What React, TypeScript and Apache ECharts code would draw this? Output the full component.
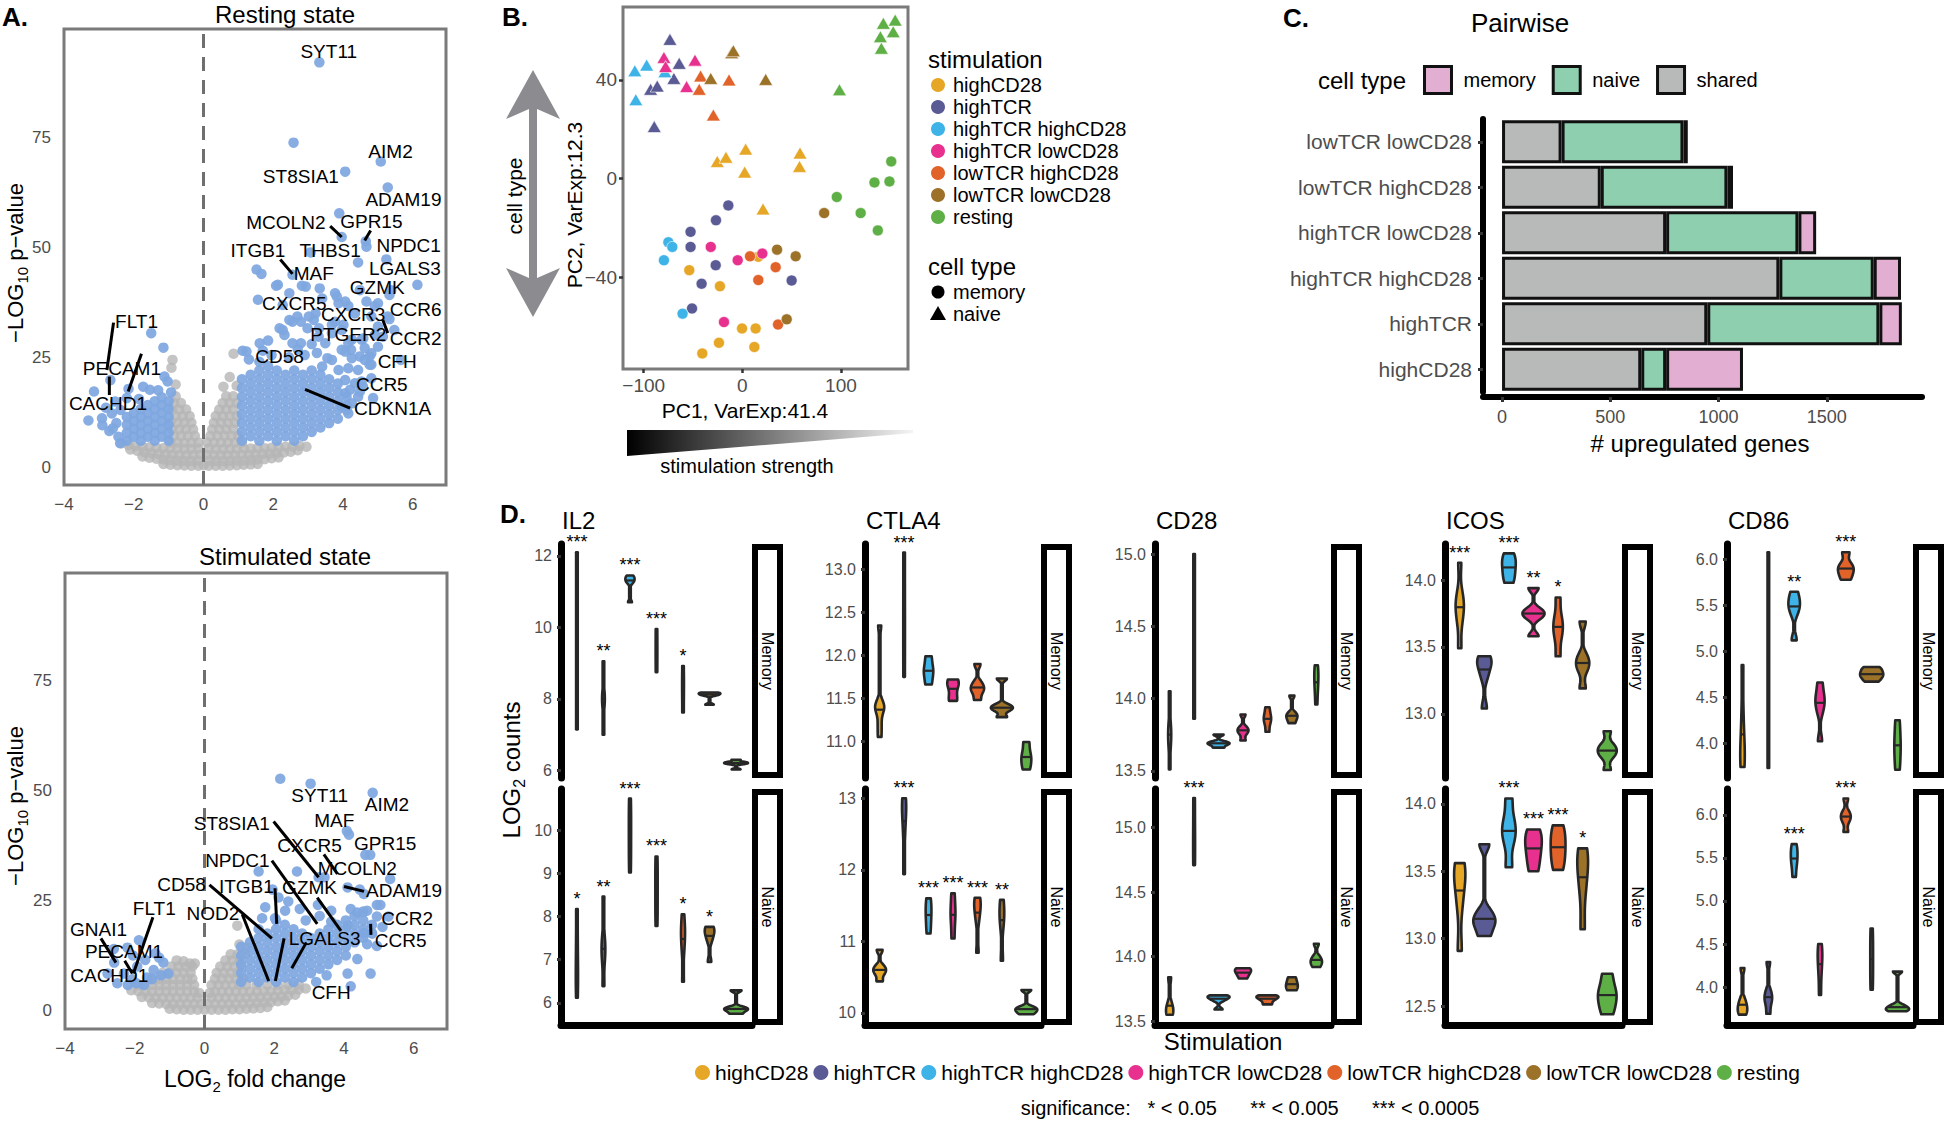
import React, { useEffect, useRef } from 'react';
import * as echarts from 'echarts';

const FONT = '"Liberation Sans", Arial, Helvetica, sans-serif';
const TICK_GREY = '#4d4d4d';
const OUTLINE = '#272727';
const FRAME = '#7a7a7a';
const VOLC_GREY = '#b5b5b5';
const VOLC_BLUE = '#7ea6e0';

// ---------------- Panel A: volcano plots (x = LOG2 fold change, y = -LOG10 p) ----------------
const restingGrey = [
  0, 0.4, 0.15, 0.3, 0.35, 0.3, 0.55, 0.3, 0.75, 0.35, 0.95, 0.4, 1.15, 0.5, 1.35, 0.6, 1.55, 0.7, -0.15, 0.3, -0.35, 0.3, -0.55, 0.35, -0.75, 0.4, -0.95, 0.5, -1.15, 0.7,
  0.15, 1.5, 0.35, 1.4, 0.55, 1.4, 0.75, 1.4, 0.95, 1.5, 1.15, 1.5, 1.35, 1.6, 1.55, 1.7, 1.75, 1.8, 1.95, 2.0, 2.15, 2.2, -0.15, 1.5, -0.35, 1.4, -0.55, 1.4, -0.75, 1.5, -0.95, 1.6, -1.15, 1.7, -1.35, 1.9, -1.55, 2.1, -1.75, 2.4,
  0.1, 2.8, 0.3, 2.7, 0.5, 2.7, 0.7, 2.7, 0.9, 2.7, 1.1, 2.8, 1.3, 2.8, 1.5, 2.9, 1.7, 3.0, 1.9, 3.1, 2.1, 3.2, 2.3, 3.3, 2.5, 3.5, 2.7, 3.8, -0.1, 2.8, -0.3, 2.7, -0.5, 2.7, -0.7, 2.7, -0.9, 2.8, -1.1, 2.9, -1.3, 3.0, -1.5, 3.2, -1.7, 3.4, -1.9, 3.7, -2.1, 4.0,
  0.15, 4.2, 0.35, 4.1, 0.55, 4.1, 0.75, 4.1, 0.95, 4.1, 1.15, 4.2, 1.35, 4.2, 1.55, 4.3, 1.75, 4.3, 1.95, 4.4, 2.15, 4.5, 2.35, 4.6, 2.55, 4.7, 2.75, 4.8, 2.95, 4.6, -0.15, 4.2, -0.35, 4.1, -0.55, 4.1, -0.75, 4.2, -0.95, 4.2, -1.15, 4.3, -1.35, 4.4, -1.55, 4.5, -1.75, 4.6, -1.95, 4.8, -2.15, 5.0, -2.35, 5.4,
  0.1, 5.6, 0.3, 5.6, 0.5, 5.6, 0.7, 5.6, 0.9, 5.6, 1.1, 5.6, -0.15, 5.6, -0.35, 5.6, -0.55, 5.6, -0.75, 5.6, -0.95, 5.6,
  0.2, 7.1, 0.4, 7.1, 0.6, 7.1, 0.8, 7.1, 1.0, 7.1, -0.25, 7.1, -0.45, 7.1, -0.65, 7.1, -0.85, 7.1,
  0.25, 8.6, 0.45, 8.6, 0.65, 8.6, 0.85, 8.6, -0.3, 8.6, -0.5, 8.6, -0.7, 8.6, -0.9, 8.6,
  0.3, 10.1, 0.5, 10.1, 0.7, 10.1, 0.9, 10.1, -0.35, 10.1, -0.55, 10.1, -0.75, 10.1, -0.95, 10.1,
  0.35, 11.6, 0.55, 11.6, 0.75, 11.6, 0.95, 11.6, -0.4, 11.6, -0.6, 11.6, -0.8, 11.6,
  0.45, 13.1, 0.65, 13.1, 0.85, 13.1, -0.5, 13.1, -0.7, 13.1, -0.9, 13.1,
  0.55, 14.6, 0.75, 14.6, 0.95, 14.6, -0.65, 14.6, -0.85, 14.6,
  0.65, 16.1, 0.85, 16.1, -0.8, 16.1,
  0.57, 18.3, 0.86, 25.8, 0.75, 20.5, 0.95, 18.5, -0.89, 24.4, -0.92, 22.6, -0.8, 18.8,
];

const restingBlue = [
  -1.0, 6, -1.0, 7.8, -1.0, 9.6, -1.0, 11.4, -1.0, 13.2, -1.0, 15,
  -1.2, 6.9, -1.2, 8.7, -1.2, 10.5, -1.2, 12.3, -1.2, 14.1, -1.2, 15.9,
  -1.4, 6, -1.4, 7.8, -1.4, 9.6, -1.4, 11.4, -1.4, 13.2, -1.4, 15,
  -1.6, 6.9, -1.6, 8.7, -1.6, 10.5, -1.6, 12.3, -1.6, 14.1,
  -1.8, 6, -1.8, 7.8, -1.8, 9.6, -1.8, 11.4, -1.8, 13.2,
  -2.0, 6.9, -2.0, 8.7, -2.0, 10.5, -2.0, 12.3,
  -2.2, 6, -2.2, 7.8, -2.2, 9.6, -2.2, 11.4,
  -1.5, 30.5, -1.15, 27.2, -1.12, 20.6, -1.54, 17.6, -1.73, 18.3, -2.53, 14.9, -3.14, 17.2, -2.91, 11.1, -2.67, 19.8, -2.63, 12.2, -2.2, 15.7, -2.9, 9.5, -2.44, 6.9, -2.39, 5.4, -1.03, 19.5, -0.93, 17, -2.7, 8.2, -2.5, 10, -2.38, 13, -3.3, 10.6, -2.8, 13.5, -1.3, 17.5, -1.85, 15.5, -2.15, 17.8, -2.6, 8.8,
  1.1, 6, 1.1, 8, 1.1, 10, 1.1, 12, 1.1, 14, 1.1, 16, 1.1, 18, 1.1, 20,
  1.35, 7, 1.35, 9, 1.35, 11, 1.35, 13, 1.35, 15, 1.35, 17, 1.35, 19, 1.35, 21,
  1.6, 6, 1.6, 8, 1.6, 10, 1.6, 12, 1.6, 14, 1.6, 16, 1.6, 18, 1.6, 20, 1.6, 22, 1.6, 24,
  1.85, 7, 1.85, 9, 1.85, 11, 1.85, 13, 1.85, 15, 1.85, 17, 1.85, 19, 1.85, 21, 1.85, 23,
  2.1, 6, 2.1, 8, 2.1, 10, 2.1, 12, 2.1, 14, 2.1, 16, 2.1, 18, 2.1, 20, 2.1, 22,
  2.35, 7, 2.35, 9, 2.35, 11, 2.35, 13, 2.35, 15, 2.35, 17, 2.35, 19, 2.35, 21,
  2.6, 6, 2.6, 8, 2.6, 10, 2.6, 12, 2.6, 14, 2.6, 16, 2.6, 18, 2.6, 20, 2.6, 22,
  2.85, 7, 2.85, 9, 2.85, 11, 2.85, 13, 2.85, 15, 2.85, 17, 2.85, 19, 2.85, 21,
  3.1, 8, 3.1, 10, 3.1, 12, 3.1, 14, 3.1, 16, 3.1, 18, 3.1, 20, 3.1, 22,
  3.35, 9, 3.35, 11, 3.35, 13, 3.35, 15, 3.35, 17, 3.35, 19, 3.35, 21,
  3.6, 10, 3.6, 12, 3.6, 14, 3.6, 16, 3.6, 18, 3.6, 20,
  3.85, 11, 3.85, 13, 3.85, 15, 3.85, 17, 3.85, 19,
  4.1, 14, 4.1, 16,
  1.12, 26.5, 1.3, 24.5, 1.61, 28.2, 1.85, 28.8, 2.18, 31.6, 2.32, 30.1, 2.55, 33.1, 2.69, 34.3, 2.79, 28.2, 2.98, 31.6, 3.16, 33.5, 3.3, 29.7, 3.49, 28.2, 3.68, 30.5, 3.77, 33.1, 4.01, 32.4, 4.15, 28.2, 3.96, 26.7, 4.23, 26.7, 4.48, 25.2, 4.76, 25.2, 4.81, 23.3, 4.43, 22.1, 4.15, 22.5, 3.87, 22.1, 4.06, 19.8, 4.34, 19.1, 4.57, 18.3, 4.06, 16.8, 4.25, 14.5, 3.96, 13.8, 4.15, 12.2, 4.43, 16, 3.4, 22.9, 3.68, 24.4,
  1.95, 25.5, 2.45, 25, 2.9, 25.5, 3.25, 26, 3.55, 24.8, 1.7, 26.5, 2.7, 26.8, 3.1, 28,
  1.52, 45, 1.66, 44, 2.13, 41.5, 2.46, 39.6, 2.27, 36.9, 2.93, 41.1, 3.4, 38.4, 3.77, 39.6, 4.06, 37.7, 4.48, 40.3, 6.13, 41.5, 5.38, 40.3, 5.0, 37.3, 4.81, 34.3, 5.0, 32, 5.14, 29.7, 5.28, 34.3, 5.47, 31.2, 5.0, 27.4, 5.66, 24.4, 4.53, 29, 4.86, 15.7, 4.53, 19.5,
  3.32, 92.2, 2.58, 73.9, 5.08, 69.6, 4.06, 67.3, 5.28, 63.7, 3.89, 57.8, 3.96, 52.4, 4.65, 51.4, 4.67, 50.2, 3.07, 48.9, 5.24, 47.3, 4.43, 46.6, 2.55, 43.8, 2.08, 41.3, 2.82, 41.3, 5.33, 39.2, 3.82, 38.8, 3.33, 40.7, 4.67, 37.7, 1.56, 38.1, 4.91, 36.7, 4.15, 36.7, 3.87, 37.3, 3.21, 35, 5.33, 33.7, 4.34, 35, 2.46, 33.5, 2.79, 33.1, 3.02, 34.3, 3.31, 31.6, 3.68, 32.4, 3.96, 31.2, 2.27, 31.2, 4.91, 30.1, 4.58, 29.3, 4.25, 29, 2.55, 28.2, 1.23, 26.3, 4.06, 26.3, 4.62, 27.1, 4.25, 24.8, 4.81, 25.9, 4.62, 24.4, 4.76, 23.3, 4.2, 17.6, 4.1, 13, 4.81, 20.2, 4.48, 17.2,
];

const restingLabels: [string, number, number][] = [
  ['SYT11', 3.59, 94.7], ['AIM2', 5.36, 72.0], ['ST8SIA1', 2.79, 66.3], ['ADAM19', 5.73, 61.0],
  ['MCOLN2', 2.36, 55.7], ['GPR15', 4.81, 55.9], ['ITGB1', 1.56, 49.3], ['THBS1', 3.63, 49.3],
  ['NPDC1', 5.88, 50.4], ['MAF', 3.16, 44.0], ['LGALS3', 5.77, 45.3], ['GZMK', 4.98, 41.0],
  ['CXCR5', 2.6, 37.2], ['CCR6', 6.08, 35.8], ['CXCR3', 4.29, 34.7], ['PTGER2', 4.15, 30.3],
  ['CCR2', 6.08, 29.3], ['CD58', 2.18, 25.2], ['CFH', 5.55, 24.0], ['CCR5', 5.11, 18.7],
  ['CDKN1A', 5.42, 13.4], ['FLT1', -1.92, 33.1], ['PECAM1', -2.34, 22.5], ['CACHD1', -2.74, 14.4],
];
const restingLeaders = [
  [3.63, 54.9, 3.96, 52.4], [4.79, 53.9, 4.62, 51.6], [2.2, 47.3, 2.55, 44], [5.14, 33.5, 5.28, 30.5],
  [2.91, 17.7, 4.2, 13.4], [-2.58, 32.9, -2.77, 22.1], [-1.78, 25.8, -2.16, 17.2], [-2.7, 20.6, -2.7, 16.4],
];

const stimGrey = [
  -1.0, 0.4, -0.8, 0.3, -0.6, 0.2, -0.4, 0.2, -0.2, 0.2, 0, 0.2, 0.2, 0.2, 0.4, 0.2, 0.6, 0.2, 0.8, 0.3, 1.0, 0.3, 1.2, 0.4, 1.4, 0.5, 1.6, 0.6, 1.8, 0.8,
  -1.5, 1.7, -1.3, 1.6, -1.1, 1.5, -0.9, 1.5, -0.7, 1.5, -0.5, 1.5, -0.3, 1.5, -0.1, 1.5, 0.1, 1.5, 0.3, 1.5, 0.5, 1.5, 0.7, 1.5, 0.9, 1.5, 1.1, 1.6, 1.3, 1.6, 1.5, 1.7, 1.7, 1.8, 1.9, 1.9, 2.1, 2.1, 2.3, 2.3,
  -1.8, 3.1, -1.6, 3.0, -1.4, 2.9, -1.2, 2.9, -1.0, 2.9, -0.8, 2.9, -0.6, 2.9, -0.4, 2.9, -0.2, 2.9, 0.2, 2.9, 0.4, 2.9, 0.6, 2.9, 0.8, 2.9, 1.0, 2.9, 1.2, 2.9, 1.4, 3.0, 1.6, 3.0, 1.8, 3.1, 2.0, 3.1, 2.2, 3.2, 2.4, 3.4, 2.6, 3.6,
  -2.1, 4.6, -1.9, 4.4, -1.7, 4.3, -1.5, 4.3, -1.3, 4.3, -1.1, 4.3, -0.9, 4.3, -0.7, 4.3, -0.5, 4.3, -0.3, 4.3, -0.15, 4.0, 0.15, 4.0, 0.3, 4.3, 0.5, 4.3, 0.7, 4.3, 0.9, 4.3, 1.1, 4.3, 1.3, 4.3, 1.5, 4.3, 1.7, 4.4, 1.9, 4.4, 2.1, 4.5, 2.3, 4.6, 2.5, 4.7, 2.7, 4.8, 2.9, 5.0,
  -1.9, 5.8, -1.7, 5.8, -1.5, 5.8, -1.3, 5.8, -1.1, 5.8, -0.9, 5.8, -0.7, 5.8, -0.5, 5.8, -0.3, 5.8, 0.2, 5.8, 0.4, 5.8, 0.6, 5.8, 0.8, 5.8, 1.0, 5.8, 1.2, 5.8, 1.5, 5.9, 1.8, 5.9, 2.1, 5.9, 2.4, 5.9, 2.7, 5.9,
  -1.5, 7.2, -1.3, 7.2, -1.1, 7.2, -0.9, 7.2, -0.7, 7.2, -0.5, 7.2, -0.35, 7.2, 0.3, 7.2, 0.5, 7.2, 0.7, 7.2, 0.9, 7.2, 1.1, 7.2,
  -1.2, 8.6, -1.0, 8.6, -0.8, 8.6, -0.6, 8.6, -0.4, 8.6, 0.35, 8.6, 0.55, 8.6, 0.75, 8.6, 0.95, 8.6,
  -0.95, 10, -0.75, 10, -0.55, 10, -0.35, 10, 0.45, 10, 0.65, 10, 0.85, 10, 1.05, 10,
  -0.8, 11.4, -0.6, 11.2, 0.6, 11.4, 0.8, 11.4, 1.0, 11.4,
  0.75, 12.8, 0.95, 12.8, 1.15, 12.8,
  0.94, 19.3, -0.42, 10.7, -0.28, 10.7, 1.0, 15, 1.2, 14.3,
];

const stimBlue = [
  1.05, 6.5, 1.05, 8.5, 1.05, 10.5, 1.05, 12.5, 1.05, 14.5,
  1.3, 7.5, 1.3, 9.5, 1.3, 11.5, 1.3, 13.5, 1.3, 15.5,
  1.55, 6.5, 1.55, 8.5, 1.55, 10.5, 1.55, 12.5, 1.55, 14.5, 1.55, 16.5, 1.55, 18.5,
  1.8, 7.5, 1.8, 9.5, 1.8, 11.5, 1.8, 13.5, 1.8, 15.5, 1.8, 17.5,
  2.05, 6.5, 2.05, 8.5, 2.05, 10.5, 2.05, 12.5, 2.05, 14.5, 2.05, 16.5, 2.05, 18.5, 2.05, 20.5,
  2.3, 7.5, 2.3, 9.5, 2.3, 11.5, 2.3, 13.5, 2.3, 15.5, 2.3, 17.5, 2.3, 19.5,
  2.55, 6.5, 2.55, 8.5, 2.55, 10.5, 2.55, 12.5, 2.55, 14.5, 2.55, 16.5, 2.55, 18.5,
  2.8, 7.5, 2.8, 9.5, 2.8, 11.5, 2.8, 13.5, 2.8, 15.5, 2.8, 17.5,
  3.05, 8.5, 3.05, 10.5, 3.05, 12.5, 3.05, 14.5, 3.05, 16.5,
  3.3, 9.5, 3.3, 11.5, 3.3, 13.5, 3.3, 15.5, 3.3, 17.5,
  3.55, 10.5, 3.55, 12.5, 3.55, 14.5, 3.55, 16.5, 3.55, 18.5,
  3.8, 11.5, 3.8, 13.5, 3.8, 15.5, 3.8, 17.5, 3.8, 19.5,
  4.05, 12.5, 4.05, 14.5, 4.05, 16.5, 4.05, 18.5, 4.05, 20.5,
  4.3, 15.5, 4.3, 17.5, 4.3, 19.5, 4.3, 21.5,
  4.55, 16.5, 4.55, 18.5, 4.55, 20.5, 4.55, 22.5,
  4.8, 17.5, 4.8, 19.5,
  2.17, 52.7, 3.04, 51.6, 4.82, 49.5, 4.08, 40.8, 4.14, 40, 4.61, 35.4, 4.75, 35.4, 3.44, 30.3, 3.27, 30.3, 5.32, 29.9, 4.57, 26.5, 4.94, 24, 1.55, 31.6, 2.65, 31.6,
  2.12, 25.7, 2.4, 24.8, 1.74, 23.5, 2.31, 22.7, 2.73, 23.1, 1.65, 21, 2.02, 21, 3.25, 24, 3.63, 22.7, 4.19, 23.1, 4.38, 22.3, 4.66, 22.7, 4.94, 21.4, 3.63, 20.2, 4.1, 19.3, 4.57, 17.6, 4.66, 15.1, 4.8, 17.6, 5.04, 24, 5.27, 21.4, 4.94, 14.7, 4.38, 11.7, 4.76, 8.4, 4.1, 8.4, 4.19, 5.5, 3.2, 6.5, 3.5, 8, 1.95, 27.5, 2.9, 20.5, 3.3, 21.5, 5.1, 19, 4.45, 27.5, 4.1, 28,
  -1.88, 16, -1.41, 13, -1.18, 10.9, -1.04, 8.4, -2.21, 14.3, -2.59, 10.9, -2.31, 8.4, -2.07, 7.1, -1.74, 5.8, -1.51, 7.1, -1.46, 9.2, -1.93, 10, -1.65, 7.5, -2.5, 6.2, -2.78, 8.4, -1.25, 8, -2.2, 5.8, -1.95, 6.2, -1.3, 12, -1.7, 11.5, -2.05, 12.5, -2.6, 14,
];

const stimLabels: [string, number, number][] = [
  ['SYT11', 3.3, 48.9], ['AIM2', 5.23, 46.8], ['ST8SIA1', 0.78, 42.5], ['MAF', 3.72, 43.2],
  ['CXCR5', 3.01, 37.5], ['GPR15', 5.18, 37.9], ['NPDC1', 0.94, 34.1], ['MCOLN2', 4.38, 32.4],
  ['CD58', -0.66, 28.6], ['ITGB1', 1.2, 28.2], ['GZMK', 3.01, 27.9], ['ADAM19', 5.72, 27.3],
  ['FLT1', -1.44, 23.3], ['NOD2', 0.24, 22.1], ['CCR2', 5.81, 21.0], ['LGALS3', 3.44, 16.4],
  ['CCR5', 5.62, 15.9], ['GNAI1', -3.04, 18.5], ['PECAM1', -2.31, 13.4], ['CACHD1', -2.73, 7.9],
  ['CFH', 3.63, 4.1],
];
const stimLeaders = [
  [1.98, 43, 3.27, 30.3], [1.93, 34.1, 3.23, 19.7], [3.42, 35.5, 3.81, 31.1], [0.14, 28.6, 1.93, 16.4],
  [2.02, 27.8, 2.07, 19.7], [3.23, 25.7, 3.91, 18.1], [4.0, 28.2, 4.57, 27.1], [4.76, 19.7, 4.77, 17.2],
  [-1.48, 21.2, -2.04, 8.4], [1.08, 21.9, 1.84, 6.7], [2.28, 16.4, 2.03, 6.7], [2.92, 15.5, 2.5, 9.6],
  [-2.97, 16.4, -2.54, 10.9], [-2.29, 11.3, -2.07, 8.4],
];
const volcanoXTicks = [-4, -2, 0, 2, 4, 6];
const volcanoYTicks = [0, 25, 50, 75];

// ---------------- Panel B: PCA ----------------
const stimNames = ['highCD28', 'highTCR', 'highTCR highCD28', 'highTCR lowCD28', 'lowTCR highCD28', 'lowTCR lowCD28', 'resting'];
const stimColors = ['#E6A626', '#5A5A94', '#3DB3E7', '#E8318E', '#E1632A', '#9C7128', '#5EAF45'];
const pcaHighCD28: any[] = [
  [-25.4, 7, 'naive'], [-16.6, 8.7, 'naive'], [3.4, 12, 'naive'], [2.4, 2.7, 'naive'], [21, -12.2, 'naive'], [58.5, 10.4, 'naive'], [58, 5, 'naive'],
  [-53.8, -37, 'memory'], [-22.7, -43.5, 'memory'], [16.2, -31.6, 'memory'], [-40.6, -70.7, 'memory'], [-23.7, -66.4, 'memory'], [-0.3, -60.6, 'memory'], [13.5, -60.6, 'memory'], [12.2, -68.1, 'memory'],
];
const pcaHighTCR: any[] = [
  [-73.4, 56.4, 'naive'], [-64, 46.7, 'naive'], [-93, 36.2, 'naive'], [-86.3, 37.5, 'naive'], [-69.4, 40.6, 'naive'], [-89.3, 21.1, 'naive'],
  [-14.2, -10.8, 'memory'], [-26.7, -16.8, 'memory'], [-52.5, -21.5, 'memory'], [-52.5, -27.6, 'memory'], [-27, -35, 'memory'], [-41.3, -42.5, 'memory'], [50, -41.2, 'memory'], [-51, -52.5, 'memory'],
];
const pcaHighTCRhighCD28: any[] = [
  [-109, 43.7, 'naive'], [-97, 46, 'naive'], [-108, 32, 'naive'], [-78.5, 43.3, 'naive'],
  [-75, -25.7, 'memory'], [-71, -27.6, 'memory'], [-79.5, -33, 'memory'], [-60.6, -54.6, 'memory'],
];
const pcaHighTCRlowCD28: any[] = [
  [-79.5, 49.1, 'naive'], [-77.8, 45.4, 'naive'], [-56.5, 37.3, 'naive'], [-48, 48, 'naive'],
  [-32, -27.6, 'memory'], [-4.7, -33, 'memory'], [20.3, -30.3, 'memory'], [-18.6, -58, 'memory'],
];
const pcaLowTCRhighCD28: any[] = [
  [-42.3, 41.6, 'naive'], [-43.7, 36.2, 'naive'], [-13.5, 40, 'naive'], [-29.4, 25.8, 'naive'],
  [7.8, -31.4, 'memory'], [33.8, -35.8, 'memory'], [16.2, -41, 'memory'], [36.2, -59, 'memory'],
];
const pcaLowTCRlowCD28: any[] = [
  [-32, 40.6, 'naive'], [-10.8, 51, 'naive'], [-9.1, 51.8, 'naive'], [23.7, 40.2, 'naive'],
  [83, -13.9, 'memory'], [35.2, -28.7, 'memory'], [54.1, -31.4, 'memory'], [45, -56.9, 'memory'],
];
const pcaResting: any[] = [
  [143, 62.9, 'naive'], [155, 64.2, 'naive'], [140, 57.5, 'naive'], [153, 59.5, 'naive'], [141, 52.8, 'naive'], [98.5, 36, 'naive'],
  [151, 7, 'memory'], [134, -1.5, 'memory'], [149.2, -1.1, 'memory'], [95.8, -7.4, 'memory'], [120, -13.9, 'memory'], [137.4, -20.9, 'memory'],
];
const pcaXTicks = [-100, 0, 100];
const pcaYTicks = [-40, 0, 40];

// ---------------- Panel C: pairwise upregulated genes ----------------
const cCategories = ['lowTCR lowCD28', 'lowTCR highCD28', 'highTCR lowCD28', 'highTCR highCD28', 'highTCR', 'highCD28'];
const cShared = [275, 456, 758, 1281, 948, 643];
const cNaive = [563, 585, 611, 436, 795, 115];
const cMemory = [20, 26, 82, 126, 104, 355];
const cXTicks = [0, 500, 1000, 1500];

// ---------------- Panel D: violins (LOG2 counts per donor sample) ----------------
const geneNames = ['IL2', 'CTLA4', 'CD28', 'ICOS', 'CD86'];
const il2Memory = [[7.15, 8.3, 9.6, 10.9, 12.1], [7.0, 7.8, 8.0, 8.2, 9.05], [10.7, 11.25, 11.32, 11.38, 11.45], [8.75, 9.35, 9.95], [7.62, 8.1, 8.5, 8.92], [7.84, 8.1, 8.13, 8.16, 8.18], [6.03, 6.18, 6.2, 6.22, 6.24, 6.3]];
const il2Naive = [[6.12, 6.5, 6.9, 7.5, 8.17], [6.39, 7.0, 7.25, 7.5, 8.46], [9.02, 9.6, 10.2, 10.73], [7.78, 8.3, 8.9, 9.39], [6.49, 7.2, 7.55, 7.7, 8.05], [6.95, 7.45, 7.6, 7.7, 7.76], [5.75, 5.82, 5.86, 5.9, 6.29]];
const ctla4Memory = [[11.05, 11.2, 11.38, 11.4, 11.42, 12.35], [11.75, 12.45, 13.2], [11.66, 11.78, 11.86, 11.99], [11.47, 11.5, 11.65, 11.68, 11.72], [11.48, 11.58, 11.62, 11.68, 11.9], [11.28, 11.36, 11.39, 11.42, 11.73], [10.67, 10.77, 10.85, 10.99]];
const ctla4Naive = [[10.44, 10.55, 10.6, 10.65, 10.88], [11.94, 12.5, 12.8, 12.9, 13.0], [11.11, 11.3, 11.45, 11.6], [11.04, 11.3, 11.45, 11.67], [10.84, 11.3, 11.45, 11.55, 11.61], [10.73, 11.25, 11.4, 11.58], [9.98, 10.02, 10.05, 10.08, 10.32]];
const cd28Memory = [[13.51, 13.68, 13.75, 13.82, 14.05], [13.86, 14.4, 15.0], [13.66, 13.68, 13.69, 13.7, 13.75], [13.71, 13.76, 13.78, 13.8, 13.89], [13.77, 13.83, 13.86, 13.89, 13.94], [13.83, 13.86, 13.88, 13.9, 14.02], [13.96, 14.06, 14.12, 14.18, 14.23]];
const cd28Naive = [[13.55, 13.58, 13.62, 13.84], [14.71, 14.95, 15.23], [13.59, 13.66, 13.68, 13.69, 13.7], [13.83, 13.86, 13.88, 13.9, 13.91], [13.63, 13.66, 13.68, 13.69, 13.7], [13.74, 13.77, 13.8, 13.84], [13.92, 13.95, 13.97, 14.0, 14.1]];
const icosMemory = [[13.49, 13.68, 13.78, 13.82, 13.9, 14.13], [13.04, 13.28, 13.36, 13.4, 13.43], [13.98, 14.04, 14.1, 14.15, 14.2], [13.58, 13.72, 13.75, 13.78, 13.94], [13.43, 13.58, 13.65, 13.72, 13.87], [13.19, 13.33, 13.38, 13.43, 13.69], [12.58, 12.68, 12.71, 12.74, 12.77, 12.87]];
const icosNaive = [[12.91, 13.25, 13.42, 13.5, 13.56], [13.02, 13.1, 13.14, 13.2, 13.7], [13.53, 13.72, 13.8, 13.88, 14.04], [13.5, 13.6, 13.68, 13.75, 13.81], [13.51, 13.6, 13.68, 13.76, 13.84], [13.07, 13.35, 13.5, 13.6, 13.67], [12.44, 12.52, 12.58, 12.64, 12.74]];
const cd86Memory = [[3.74, 3.85, 3.95, 4.3, 4.85], [3.73, 4.5, 5.3, 6.08], [5.12, 5.42, 5.5, 5.56, 5.65], [4.02, 4.35, 4.45, 4.52, 4.66], [5.78, 5.85, 5.9, 5.95, 6.08], [4.67, 4.72, 4.75, 4.79, 4.83], [3.71, 3.9, 4.05, 4.25]];
const cd86Naive = [[3.68, 3.73, 3.78, 3.85, 4.22], [3.69, 3.82, 3.88, 3.95, 4.29], [5.28, 5.42, 5.5, 5.58, 5.66], [3.91, 4.15, 4.3, 4.4, 4.5], [5.8, 5.93, 5.98, 6.03, 6.19], [3.97, 4.2, 4.45, 4.68], [3.72, 3.74, 3.76, 3.79, 4.18]];

const il2MemoryStars = ['***', '**', '***', '***', '*', '', ''];
const il2NaiveStars = ['*', '**', '***', '***', '*', '*', ''];
const ctla4MemoryStars = ['', '***', '', '', '', '', ''];
const ctla4NaiveStars = ['', '***', '***', '***', '***', '**', ''];
const cd28MemoryStars = ['', '', '', '', '', '', ''];
const cd28NaiveStars = ['', '***', '', '', '', '', ''];
const icosMemoryStars = ['***', '', '***', '**', '*', '', ''];
const icosNaiveStars = ['', '', '***', '***', '***', '*', ''];
const cd86MemoryStars = ['', '', '**', '', '***', '', ''];
const cd86NaiveStars = ['', '', '***', '', '***', '', ''];

const il2MemoryTicks = [6, 8, 10, 12];
const il2NaiveTicks = [6, 7, 8, 9, 10];
const ctla4MemoryTicks = [11, 11.5, 12, 12.5, 13];
const ctla4NaiveTicks = [10, 11, 12, 13];
const cd28Ticks = [13.5, 14, 14.5, 15];
const icosMemoryTicks = [13, 13.5, 14];
const icosNaiveTicks = [12.5, 13, 13.5, 14];
const cd86Ticks = [4, 4.5, 5, 5.5, 6];

// layout (pixels / axis limits)
const violinSamples = [[il2Memory, il2Naive], [ctla4Memory, ctla4Naive], [cd28Memory, cd28Naive], [icosMemory, icosNaive], [cd86Memory, cd86Naive]];
const violinStars = [[il2MemoryStars, il2NaiveStars], [ctla4MemoryStars, ctla4NaiveStars], [cd28MemoryStars, cd28NaiveStars], [icosMemoryStars, icosNaiveStars], [cd86MemoryStars, cd86NaiveStars]];
const violinTicks = [[il2MemoryTicks, il2NaiveTicks], [ctla4MemoryTicks, ctla4NaiveTicks], [cd28Ticks, cd28Ticks], [icosMemoryTicks, icosNaiveTicks], [cd86Ticks, cd86Ticks]];
const tickDecimals = [[0, 0], [1, 0], [1, 1], [1, 1], [1, 1]];
const facetRanges = [[[5.79, 12.33], [5.49, 10.95]], [[10.57, 13.3], [9.83, 13.13]], [[13.45, 15.07], [13.47, 15.3]], [[12.52, 14.27], [12.36, 14.11]], [[3.62, 6.17], [3.56, 6.3]]];
const facetLeft = [561, 865, 1155, 1445, 1727];
const stripLeft = [752, 1041, 1331, 1622, 1913];
const facetTop = [544, 789];
const facetHeight = [234, 236];
const cellNames = ['Memory', 'Naive'];

function pairs(a: number[]) {
  const r: number[][] = [];
  for (let i = 0; i < a.length; i += 2) r.push([a[i], a[i + 1]]);
  return r;
}
const fmtMinus = (v: number) => (v < 0 ? '\u2212' + Math.abs(v) : String(v));

function kde(samples: number[]) {
  const n = samples.length;
  const s = samples.slice().sort((a, b) => a - b);
  const mean = s.reduce((a, b) => a + b, 0) / n;
  const sd = Math.sqrt(s.reduce((a, b) => a + (b - mean) * (b - mean), 0) / (n - 1));
  const q = (p: number) => {
    const h = (n - 1) * p;
    const lo = Math.floor(h);
    const hi = Math.min(lo + 1, n - 1);
    return s[lo] + (h - lo) * (s[hi] - s[lo]);
  };
  const iqr = q(0.75) - q(0.25);
  let lo = Math.min(sd, iqr / 1.34);
  if (!(lo > 0)) lo = sd > 0 ? sd : 1;
  const bw = 0.9 * lo * Math.pow(n, -0.2);
  const N = 64;
  const prof: number[][] = [];
  for (let i = 0; i <= N; i++) {
    const y = s[0] + ((s[n - 1] - s[0]) * i) / N;
    let d = 0;
    for (const v of s) {
      const z = (y - v) / bw;
      d += Math.exp(-0.5 * z * z);
    }
    d /= n * bw * Math.sqrt(2 * Math.PI);
    prof.push([y, d]);
  }
  let total = 0;
  const cum = [0];
  for (let i = 1; i <= N; i++) {
    total += ((prof[i][1] + prof[i - 1][1]) / 2) * (prof[i][0] - prof[i - 1][0]);
    cum.push(total);
  }
  let median = q(0.5);
  for (let i = 1; i <= N; i++) {
    if (cum[i] >= total / 2) {
      const f = (total / 2 - cum[i - 1]) / (cum[i] - cum[i - 1] || 1);
      median = prof[i - 1][0] + f * (prof[i][0] - prof[i - 1][0]);
      break;
    }
  }
  return { prof, median, min: s[0], max: s[n - 1] };
}

function txt(text: string, x: number, y: number, o: any = {}) {
  const style: any = {
    text,
    fill: o.color || '#000',
    fontSize: o.size || 20,
    fontWeight: o.bold ? 'bold' : 'normal',
    fontFamily: FONT,
    align: o.align || 'center',
    verticalAlign: o.va || 'middle',
  };
  if (o.rich) style.rich = o.rich;
  if (o.lh) style.lineHeight = o.lh;
  return { type: 'text', x, y, rotation: o.rot || 0, z: 100, silent: true, style };
}

function buildOption() {
  const grids: any[] = [];
  const xAxes: any[] = [];
  const yAxes: any[] = [];
  const series: any[] = [];
  const graphics: any[] = [];

  // ---- Panel A
  const volc = [
    { grey: restingGrey, blue: restingBlue, labels: restingLabels, leaders: restingLeaders, grid: { left: 64, top: 29, width: 382, height: 456 }, y: [-4.1, 99.8] },
    { grey: stimGrey, blue: stimBlue, labels: stimLabels, leaders: stimLeaders, grid: { left: 65, top: 573, width: 382, height: 456 }, y: [-4.2, 99.5] },
  ];
  volc.forEach((v, i) => {
    grids.push({ ...v.grid, show: true, borderColor: FRAME, borderWidth: 3, backgroundColor: 'rgba(0,0,0,0)' });
    xAxes.push({
      gridIndex: i, type: 'value', min: -4, max: 6.95,
      axisLine: { show: false, onZero: false }, axisTick: { show: false }, splitLine: { show: false },
      axisLabel: { customValues: volcanoXTicks, formatter: fmtMinus, fontSize: 17, color: TICK_GREY, margin: 11 },
    });
    yAxes.push({
      gridIndex: i, type: 'value', min: v.y[0], max: v.y[1],
      axisLine: { show: false, onZero: false }, axisTick: { show: false }, splitLine: { show: false },
      axisLabel: { customValues: volcanoYTicks, fontSize: 17, color: TICK_GREY, margin: 13 },
    });
    series.push({
      type: 'scatter', xAxisIndex: i, yAxisIndex: i, silent: true, symbolSize: 10.5,
      itemStyle: { color: VOLC_GREY }, data: pairs(v.grey),
      markLine: {
        silent: true, symbol: ['none', 'none'], label: { show: false },
        lineStyle: { type: [14, 9], color: '#6f6f6f', width: 3 }, data: [{ xAxis: 0 }],
      },
    });
    series.push({
      type: 'scatter', xAxisIndex: i, yAxisIndex: i, silent: true, symbolSize: 10.5,
      itemStyle: { color: VOLC_BLUE, opacity: 0.92 }, data: pairs(v.blue),
    });
    const leaders = v.leaders;
    series.push({
      type: 'custom', xAxisIndex: i, yAxisIndex: i, silent: true, z: 5,
      data: leaders.map((l) => l), encode: { x: [0, 2], y: [1, 3] },
      renderItem: (params: any, api: any) => {
        const l = leaders[params.dataIndex];
        const a = api.coord([l[0], l[1]]);
        const b = api.coord([l[2], l[3]]);
        return { type: 'line', shape: { x1: a[0], y1: a[1], x2: b[0], y2: b[1] }, style: { stroke: '#000', lineWidth: 3 } };
      },
    });
    const labels = v.labels;
    series.push({
      type: 'custom', xAxisIndex: i, yAxisIndex: i, silent: true, z: 6,
      data: labels.map((l) => [l[1], l[2]]), encode: { x: 0, y: 1 },
      renderItem: (params: any, api: any) => {
        const l = labels[params.dataIndex];
        const p = api.coord([l[1], l[2]]);
        return { type: 'text', x: p[0], y: p[1], style: { text: l[0], fill: '#000', fontSize: 19, fontFamily: FONT, align: 'center', verticalAlign: 'middle' } };
      },
    });
  });
  const sub = (size: number) => ({ s: { fontSize: size, fontFamily: FONT, verticalAlign: 'bottom' } });
  graphics.push(txt('A.', 2, 17, { size: 26, bold: true, align: 'left' }));
  graphics.push(txt('Resting state', 285, 14, { size: 24 }));
  graphics.push(txt('Stimulated state', 285, 556, { size: 24 }));
  graphics.push(txt('\u2212LOG{s|10} p\u2212value', 15, 263, { size: 22, rot: Math.PI / 2, rich: sub(15), lh: 30 }));
  graphics.push(txt('\u2212LOG{s|10} p\u2212value', 15, 806, { size: 22, rot: Math.PI / 2, rich: sub(15), lh: 30 }));
  graphics.push(txt('LOG{s|2} fold change', 255, 1079, { size: 23, rich: sub(15), lh: 30 }));

  // ---- Panel B
  grids.push({ left: 623, top: 7, width: 285, height: 362, show: true, borderColor: FRAME, borderWidth: 3, backgroundColor: 'rgba(0,0,0,0)' });
  xAxes.push({
    gridIndex: 2, type: 'value', min: -121, max: 168,
    axisLine: { show: false, onZero: false }, splitLine: { show: false },
    axisTick: { show: true, length: 4, customValues: pcaXTicks, lineStyle: { color: '#333', width: 2.5 } },
    axisLabel: { customValues: pcaXTicks, formatter: fmtMinus, fontSize: 19, color: TICK_GREY, margin: 7 },
  });
  yAxes.push({
    gridIndex: 2, type: 'value', min: -77, max: 69.5,
    axisLine: { show: false, onZero: false }, splitLine: { show: false },
    axisTick: { show: true, length: 4, customValues: pcaYTicks, lineStyle: { color: '#333', width: 2.5 } },
    axisLabel: { customValues: pcaYTicks, formatter: fmtMinus, fontSize: 19, color: TICK_GREY, margin: 6 },
  });
  const pcaGroups = [pcaHighCD28, pcaHighTCR, pcaHighTCRhighCD28, pcaHighTCRlowCD28, pcaLowTCRhighCD28, pcaLowTCRlowCD28, pcaResting];
  pcaGroups.forEach((grp, i) => {
    ['naive', 'memory'].forEach((ct) => {
      series.push({
        type: 'scatter', name: stimNames[i], xAxisIndex: 2, yAxisIndex: 2, silent: true,
        symbol: ct === 'memory' ? 'circle' : 'triangle', symbolSize: ct === 'memory' ? 11 : [14, 12],
        itemStyle: { color: stimColors[i], borderColor: '#fff', borderWidth: 0.6, opacity: 1 },
        data: grp.filter((p: any) => p[2] === ct).map((p: any) => [p[0], p[1]]),
      });
    });
  });
  graphics.push(txt('B.', 502, 17, { size: 26, bold: true, align: 'left' }));
  graphics.push(txt('PC1, VarExp:41.4', 745, 410, { size: 21 }));
  graphics.push(txt('PC2, VarExp:12.3', 574, 205, { size: 21, rot: Math.PI / 2 }));
  graphics.push(txt('cell type', 514, 196, { size: 21, rot: Math.PI / 2 }));
  graphics.push({
    type: 'polygon', z: 50, silent: true,
    shape: { points: [[533, 70], [560, 119], [537, 109], [537, 278], [560, 268], [533, 317], [506, 268], [529, 278], [529, 109], [506, 119]] },
    style: { fill: '#8c8c90' },
  });
  graphics.push({
    type: 'polygon', z: 50, silent: true,
    shape: { points: [[627, 430], [913, 430], [913, 433], [627, 456]] },
    style: {
      fill: new (echarts as any).graphic.LinearGradient(0, 0, 1, 0, [
        { offset: 0, color: '#000000' },
        { offset: 1, color: '#f4f4f4' },
      ]),
    },
  });
  graphics.push(txt('stimulation strength', 747, 466, { size: 20 }));
  graphics.push(txt('stimulation', 928, 59, { size: 24, align: 'left' }));
  stimNames.forEach((nm, i) => {
    const y = 85 + i * 22;
    graphics.push({ type: 'circle', z: 50, silent: true, shape: { cx: 938, cy: y, r: 7 }, style: { fill: stimColors[i] } });
    graphics.push(txt(nm, 953, y, { size: 20, align: 'left' }));
  });
  graphics.push(txt('cell type', 928, 266, { size: 24, align: 'left' }));
  graphics.push({ type: 'circle', z: 50, silent: true, shape: { cx: 938, cy: 292, r: 6.5 }, style: { fill: '#000' } });
  graphics.push(txt('memory', 953, 292, { size: 20, align: 'left' }));
  graphics.push({ type: 'polygon', z: 50, silent: true, shape: { points: [[938, 306], [946, 320], [930, 320]] }, style: { fill: '#000' } });
  graphics.push(txt('naive', 953, 314, { size: 20, align: 'left' }));

  // ---- Panel C
  grids.push({ left: 1483, top: 119, width: 439, height: 273 });
  xAxes.push({
    gridIndex: 3, type: 'value', min: -88, max: 1940, offset: 5,
    axisLine: { show: true, onZero: false, lineStyle: { color: '#000', width: 6 } },
    axisTick: { show: true, length: 5, customValues: cXTicks, lineStyle: { color: '#333', width: 3 } },
    axisLabel: { customValues: cXTicks, formatter: (v: number) => String(v), fontSize: 18, color: TICK_GREY, margin: 11 },
    splitLine: { show: false },
  });
  yAxes.push({
    gridIndex: 3, type: 'category', data: cCategories, inverse: true,
    axisLine: { show: true, onZero: false, lineStyle: { color: '#000', width: 6 } },
    axisTick: { show: true, alignWithLabel: true, length: 5, lineStyle: { color: '#333', width: 3 } },
    axisLabel: { fontSize: 21, color: TICK_GREY, margin: 11 },
    splitLine: { show: false },
  });
  const cSeries: [string, number[], string][] = [['shared', cShared, '#B8BAB9'], ['naive', cNaive, '#8DCFAE'], ['memory', cMemory, '#E2AED1']];
  cSeries.forEach(([name, vals, col]) => {
    series.push({
      type: 'bar', name, stack: 'pairwise', xAxisIndex: 3, yAxisIndex: 3, silent: true, barWidth: 43,
      data: vals, itemStyle: { color: col, borderColor: '#111', borderWidth: 3 },
    });
  });
  graphics.push(txt('C.', 1283, 18, { size: 26, bold: true, align: 'left' }));
  graphics.push(txt('Pairwise', 1520, 23, { size: 26 }));
  graphics.push(txt('cell type', 1318, 80, { size: 24, align: 'left' }));
  graphics.push(txt('# upregulated genes', 1700, 443, { size: 24 }));

  // ---- Panel D
  graphics.push(txt('D.', 500, 514, { size: 26, bold: true, align: 'left' }));
  graphics.push(txt('LOG{s|2} counts', 511, 770, { size: 24, rot: Math.PI / 2, rich: sub(16), lh: 32 }));
  graphics.push(txt('Stimulation', 1223, 1041, { size: 24 }));
  graphics.push(txt('significance:   * < 0.05      ** < 0.005      *** < 0.0005', 1250, 1108, { size: 20 }));
  geneNames.forEach((gene, g) => {
    const L = facetLeft[g];
    const S = stripLeft[g];
    graphics.push(txt(gene, L + 1, 520, { size: 24, align: 'left' }));
    [0, 1].forEach((c) => {
      const gi = grids.length;
      grids.push({ left: L, top: facetTop[c], width: S - L, height: facetHeight[c] });
      xAxes.push({
        gridIndex: gi, type: 'value', min: 0.4, max: 7.6,
        axisLine: { show: c === 1, onZero: false, lineStyle: { color: '#000', width: 7 } },
        axisTick: { show: false }, axisLabel: { show: false }, splitLine: { show: false },
      });
      const ticks = violinTicks[g][c];
      const dec = tickDecimals[g][c];
      yAxes.push({
        gridIndex: gi, type: 'value', min: facetRanges[g][c][0], max: facetRanges[g][c][1],
        axisLine: { show: true, onZero: false, lineStyle: { color: '#000', width: 7 } },
        axisTick: { show: true, length: 4, customValues: ticks, lineStyle: { color: '#333', width: 3 } },
        axisLabel: { customValues: ticks, formatter: (v: number) => v.toFixed(dec), fontSize: 16, color: TICK_GREY, margin: 9 },
        splitLine: { show: false },
      });
      const vs = violinSamples[g][c].map(kde);
      let maxD = 0;
      vs.forEach((v) => v.prof.forEach((p) => { if (p[1] > maxD) maxD = p[1]; }));
      const scaled = vs.map((v) => ({ ...v, prof: v.prof.map(([y, d]) => [y, (d / maxD) * 0.45]) }));
      const stars = violinStars[g][c];
      series.push({
        type: 'custom', name: gene + ' ' + cellNames[c], xAxisIndex: gi, yAxisIndex: gi, silent: true, clip: false,
        data: scaled.map((v, i) => [i + 1, v.min, v.max]), encode: { x: 0, y: [1, 2] },
        renderItem: (params: any, api: any) => {
          const i = params.dataIndex;
          const v = scaled[i];
          const x0 = i + 1;
          const unit = api.size([1, 0])[0];
          const left: number[][] = [];
          const right: number[][] = [];
          for (const [y, w] of v.prof) {
            const p = api.coord([x0, y]);
            const hw = Math.max(w * unit, 0.8);
            left.push([p[0] - hw, p[1]]);
            right.push([p[0] + hw, p[1]]);
          }
          const pts = left.concat(right.reverse());
          let wm = 0;
          for (let k = 1; k < v.prof.length; k++) {
            if (v.prof[k][0] >= v.median) { wm = v.prof[k][1]; break; }
          }
          const pm = api.coord([x0, v.median]);
          const hwm = Math.max(wm * unit, 0.8);
          const top = api.coord([x0, v.max]);
          const children: any[] = [
            { type: 'polygon', shape: { points: pts }, style: { fill: stimColors[i], stroke: OUTLINE, lineWidth: 2.6, lineJoin: 'round' } },
            { type: 'line', shape: { x1: pm[0] - hwm, y1: pm[1], x2: pm[0] + hwm, y2: pm[1] }, style: { stroke: OUTLINE, lineWidth: 2.2 } },
          ];
          if (stars[i]) {
            children.push({ type: 'text', x: top[0], y: top[1] - 1, style: { text: stars[i], fill: '#000', fontSize: 18, fontFamily: FONT, align: 'center', verticalAlign: 'bottom' } });
          }
          return { type: 'group', children };
        },
      });
      graphics.push({
        type: 'rect', z: 50, silent: true,
        shape: { x: S + 3, y: facetTop[c] + 3, width: 25, height: facetHeight[c] - 6 },
        style: { fill: '#fff', stroke: '#000', lineWidth: 6 },
      });
      graphics.push(txt(cellNames[c], S + 15.5, facetTop[c] + facetHeight[c] / 2, { size: 16, rot: -Math.PI / 2 }));
    });
  });

  return {
    animation: false,
    backgroundColor: '#ffffff',
    textStyle: { fontFamily: FONT },
    grid: grids,
    xAxis: xAxes,
    yAxis: yAxes,
    legend: [
      {
        data: ['memory', 'naive', 'shared'], left: 1423, top: 65, padding: 0, orient: 'horizontal',
        icon: 'rect', itemWidth: 27, itemHeight: 27, itemGap: 16, selectedMode: false,
        itemStyle: { borderColor: '#111', borderWidth: 3 },
        textStyle: { fontSize: 20, color: '#000', fontFamily: FONT, padding: [0, 0, 0, 7] },
      },
      {
        data: stimNames, left: 695, top: 1062, padding: 0, orient: 'horizontal',
        icon: 'circle', itemWidth: 15, itemHeight: 15, itemGap: 5, selectedMode: false,
        itemStyle: { borderWidth: 0 },
        textStyle: { fontSize: 21, color: '#000', fontFamily: FONT },
      },
    ],
    series,
    graphic: { elements: graphics },
  };
}

export default function App() {
  const ref = useRef<HTMLDivElement>(null);
  useEffect(() => {
    document.body.style.margin = '0';
    const chart = echarts.init(ref.current as HTMLDivElement, null, { renderer: 'svg' });
    chart.setOption(buildOption() as any);
    return () => chart.dispose();
  }, []);
  return <div ref={ref} style={{ position: 'absolute', left: 0, top: 0, width: 1945, height: 1121, background: '#fff' }} />;
}
